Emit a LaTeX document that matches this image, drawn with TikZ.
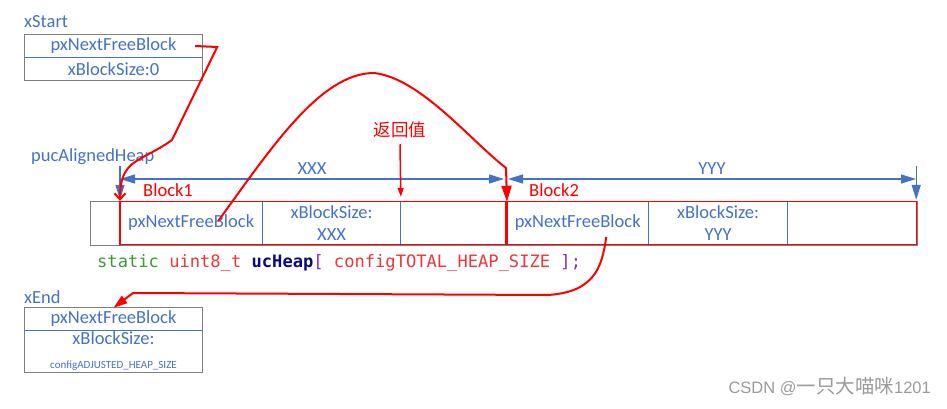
\documentclass[tikz,border=0pt]{standalone}
\usepackage{fontspec}
\setmainfont{Carlito}
\setmonofont{DejaVu Sans Mono}
\setsansfont{Liberation Sans}
\newfontfamily\cjkfont{Noto Sans CJK SC}
\definecolor{heapblue}{HTML}{4472C4}
\definecolor{heapred}{HTML}{FF0000}
\definecolor{boxgray}{HTML}{7F7F7F}
\definecolor{codegreen}{HTML}{3C9A32}
\definecolor{codered}{HTML}{F0353A}
\definecolor{codenavy}{HTML}{0A0A80}
\definecolor{codepurple}{HTML}{8A2BB0}
\definecolor{wmgray}{HTML}{9A9A9A}
\usetikzlibrary{arrows.meta,positioning,calc}
\tikzset{
    lbl/.style={text=heapblue, font=\fontsize{18.5}{22}\selectfont, inner sep=0pt},
    cell/.style={lbl, minimum height=42pt, align=center},
    rowcell/.style={lbl, minimum width=177pt, minimum height=22pt, align=center},
    ptr/.style={heapred, line width=2pt},
    dim/.style={heapblue, line width=1.4pt, {Triangle[length=15pt,width=9pt]}-{Triangle[length=15pt,width=9pt]}},
    pin/.style={heapblue, line width=1.4pt, -{Triangle[length=15pt,width=9pt]}},
}

\begin{document}
\begin{tikzpicture}[x=1pt,y=-1pt]
    \useasboundingbox (0,0) rectangle (947,409);
    % xStart
    \node[lbl, anchor=west] (startlbl) at (24,22) {xStart};
    \node[rowcell] (sNext) at (113.5,46) {pxNextFreeBlock};
    \node[rowcell, below=0pt of sNext, minimum height=23pt] (sSize) {xBlockSize:0};
    \draw[boxgray, line width=1pt] (sNext.north west) rectangle (sSize.south east);
    \draw[heapblue, line width=1.2pt] (sNext.south west) -- (sNext.south east);
    % heap
    \node[draw=boxgray, line width=1pt, minimum width=827pt, minimum height=44pt, inner sep=0pt] (heap) at (503.5,223) {};
    \node[cell, minimum width=142pt, anchor=west] (c1) at (120,223) {\raisebox{-2pt}{pxNextFreeBlock}};
    \node[cell, minimum width=138pt, right=0pt of c1] (c2) {xBlockSize:\\XXX};
    \node[cell, minimum width=104pt, right=0pt of c2] (c3) {};
    \node[cell, minimum width=141pt, anchor=west] (d1) at (507,223) {\raisebox{-2pt}{pxNextFreeBlock}};
    \node[cell, minimum width=139pt, right=0pt of d1] (d2) {xBlockSize:\\YYY};
    \node[cell, minimum width=128pt, right=0pt of d2] (d3) {};
    \foreach \n in {c1,c2,c3,d1,d2,d3}
        \draw[heapblue, line width=1.2pt] (\n.north west) -- (\n.north west |- heap.south);
    \draw[heapred, line width=1.2pt] (c1.north west) rectangle (c3.south east);
    \draw[heapred, line width=1.2pt] (d1.north west) rectangle (d3.south east);
    \node[lbl, text=heapred, anchor=west] (b1lbl) at (143,190) {Block1};
    \node[lbl, text=heapred, anchor=west] (b2lbl) at (529,190) {Block2};
    % sizes
    \node[lbl, anchor=west] (puclbl) at (31,157) {pucAlignedHeap};
    \coordinate (dimA) at (120,179);
    \coordinate (dimB) at (504,179);
    \coordinate (dimC) at (508,179);
    \coordinate (dimD) at (916,179);
    \draw[dim] (dimA) -- node[lbl, above=4pt] (xxxlbl) {XXX} (dimB);
    \draw[dim] (dimC) -- node[lbl, above=4pt] (yyylbl) {YYY} (dimD);
    \draw[pin] (c1.north west |- 0,166) -- ([yshift=2pt]c1.north west);
    \draw[pin] (d3.north east |- 0,166) -- ([yshift=2pt]d3.north east);
    % code line
    \node[anchor=west, inner sep=0pt, font=\ttfamily\fontsize{17.1}{20}\selectfont] (code) at (97,263)
        {\textcolor{codegreen}{static} \textcolor{codered}{uint8\_t} \textcolor{codenavy}{\bfseries ucHeap}\textcolor{codepurple}{[} \textcolor{codered}{configTOTAL\_HEAP\_SIZE} \textcolor{codepurple}{];}};
    % xEnd
    \node[lbl, anchor=west] (endlbl) at (24,297) {xEnd};
    \node[rowcell] (eNext) at (113.5,319) {pxNextFreeBlock};
    \node[rowcell, below=0pt of eNext, minimum height=42pt] (eSize)
        {xBlockSize:\\[2pt]{\fontsize{11}{11}\selectfont configADJUSTED\_HEAP\_SIZE}};
    \draw[boxgray, line width=1pt] (eNext.north west) rectangle (eSize.south east);
    \draw[heapblue, line width=1.2pt] (eNext.south west) -- (eNext.south east);
    % pointers
    \draw[ptr, -{Straight Barb[length=6pt,width=11pt]}] ([xshift=-7pt]sNext.east) -- ++(22,1)
        -- (172,140) .. controls (140,163) and (120,158) .. ([yshift=1pt]c1.north west);
    \draw[ptr, -{Triangle[length=16pt,width=10pt]}] ($(c1.center)+(27,-2)$)
        .. controls (270,150) and (320,73) .. (374,73)
        .. controls (420,78) and (470,140) .. (506,168) -- (d1.north west);
    \node[text=heapred, inner sep=0pt, font=\cjkfont\fontsize{17.5}{20}\selectfont] (retlbl) at (400,130) {返回值};
    \draw[heapred, line width=1.5pt, -{Triangle[length=9pt,width=6pt]}] ([yshift=-6pt]retlbl.south) -- ([yshift=5pt]c3.north west);
    \draw[ptr, -{Triangle[length=14pt,width=9pt]}] ($(d1.center)+(28.5,14)$)
        .. controls (602,268) and (594,292) .. (548,295) -- (133,293) -- (eNext.north);
    % watermark
    \node[anchor=east, inner sep=0pt, text=wmgray, font=\sffamily\fontsize{16.5}{18}\selectfont] (wmark) at (931,386)
        {CSDN @{\cjkfont\fontsize{19.5}{18}\selectfont 一只大喵咪}1201};
\end{tikzpicture}
\end{document}
